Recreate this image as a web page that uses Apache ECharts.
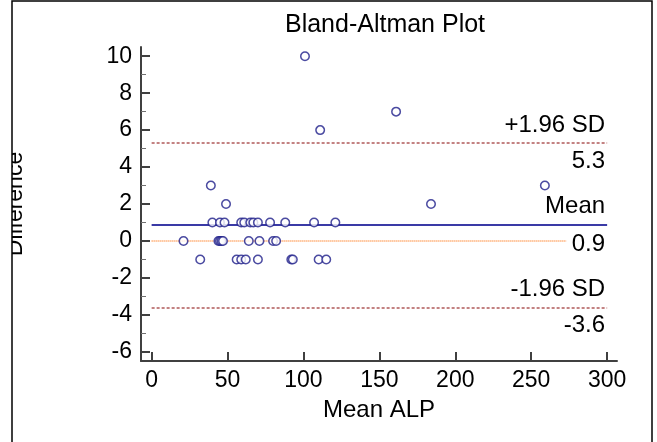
<!DOCTYPE html>
<html>
<head>
<meta charset="utf-8">
<script src="https://cdn.jsdelivr.net/npm/echarts@6/dist/echarts.min.js"></script>
<style>html,body{margin:0;padding:0;background:#fff}#c{width:657px;height:442px}</style>
</head>
<body>
<div id="c"></div>
<script>
// Data
const meanALP = [101, 111, 161, 259, 184, 39, 49,
  40, 45, 48, 59, 61, 65, 67, 70, 78, 88, 107, 121,
  21, 44, 45, 46, 47, 64, 71, 80, 82,
  32, 56, 59, 62, 70, 92, 93, 110, 115];
const difference = [10, 6, 7, 3, 2, 3, 2,
  1, 1, 1, 1, 1, 1, 1, 1, 1, 1, 1, 1,
  0, 0, 0, 0, 0, 0, 0, 0, 0,
  -1, -1, -1, -1, -1, -1, -1, -1, -1];
const meanDiff = 0.9;
const upperLoA = 5.3;
const lowerLoA = -3.6;
const xTicks = [0, 50, 100, 150, 200, 250, 300];
const yTicks = [-6, -4, -2, 0, 2, 4, 6, 8, 10];
const yMinorTicks = [-5, -3, -1, 1, 3, 5, 7, 9];

const FONT = 'Liberation Sans';
const points = meanALP.map((x, i) => [x, difference[i]]);
const chart = echarts.init(document.getElementById('c'), null, {renderer: 'canvas'});
const axisCol = '#404040';
const hidden = {color: 'rgba(0,0,0,0)', width: 1, type: 'solid'};
chart.setOption({
  animation: false,
  backgroundColor: '#fff',
  title: {
    text: 'Bland-Altman Plot', left: 380, top: 8, textAlign: 'center',
    textStyle: {fontFamily: FONT, fontSize: 25, fontWeight: 'normal', color: '#000'}
  },
  grid: {left: 141, right: 40, top: 47, bottom: 81, containLabel: false},
  xAxis: {
    type: 'value', min: -7, max: 306.5,
    name: 'Mean ALP', nameLocation: 'middle', nameGap: 37,
    nameTextStyle: {fontFamily: FONT, fontSize: 24, color: '#000'},
    axisLine: {onZero: false, lineStyle: {color: axisCol, width: 2}},
    axisTick: {inside: true, length: 9, customValues: xTicks, lineStyle: {color: axisCol, width: 2}},
    axisLabel: {customValues: xTicks, margin: 8, fontFamily: FONT, fontSize: 23, color: '#000'},
    splitLine: {show: false}
  },
  yAxis: [{
    type: 'value', min: -6.5, max: 10.5,
    axisLine: {onZero: false, lineStyle: {color: axisCol, width: 2}},
    axisTick: {inside: true, length: 9, customValues: yTicks, lineStyle: {color: axisCol, width: 2}},
    axisLabel: {customValues: yTicks, margin: 9, fontFamily: FONT, fontSize: 23, color: '#000'},
    splitLine: {show: false}
  }, {
    type: 'value', min: -6.5, max: 10.5, position: 'left',
    axisLine: {show: false, onZero: false},
    axisTick: {show: true, inside: true, length: 5, customValues: yMinorTicks, lineStyle: {color: '#707070', width: 1}},
    axisLabel: {show: false},
    splitLine: {show: false}
  }],
  series: [{
    type: 'scatter',
    data: points,
    symbol: 'circle',
    symbolSize: 8.5,
    itemStyle: {color: '#fff', borderColor: '#1e1e8a', borderWidth: 1.5},
    z: 5,
    markLine: {
      silent: true, symbol: 'none', animation: false,
      data: [
        [{coord: [0, upperLoA], lineStyle: {color: '#b05a5a', type: [3, 2], width: 1.5},
          label: {show: true, position: 'insideEndTop', formatter: '+1.96 SD', distance: [2, 6]}},
         {coord: [300, upperLoA]}],
        [{coord: [0, upperLoA], lineStyle: hidden,
          label: {show: true, position: 'insideEndBottom', formatter: String(upperLoA), distance: [2, 6]}},
         {coord: [300, upperLoA]}],
        [{coord: [0, meanDiff], lineStyle: {color: '#3a3aa6', type: 'solid', width: 2},
          label: {show: true, position: 'insideEndTop', formatter: 'Mean', distance: [2, 6]}},
         {coord: [300, meanDiff]}],
        [{coord: [0, meanDiff], lineStyle: hidden,
          label: {show: true, position: 'insideEndBottom', formatter: String(meanDiff), distance: [2, 8]}},
         {coord: [300, meanDiff]}],
        [{coord: [0, 0], lineStyle: {color: '#ff8c3c', type: [1, 1], width: 1.5}, label: {show: false}},
         {coord: [273, 0]}],
        [{coord: [0, lowerLoA], lineStyle: {color: '#b05a5a', type: [3, 2], width: 1.5},
          label: {show: true, position: 'insideEndTop', formatter: '-1.96 SD', distance: [2, 6]}},
         {coord: [300, lowerLoA]}],
        [{coord: [0, lowerLoA], lineStyle: hidden,
          label: {show: true, position: 'insideEndBottom', formatter: String(lowerLoA), distance: [2, 6]}},
         {coord: [300, lowerLoA]}]
      ],
      label: {fontFamily: FONT, fontSize: 24, color: '#000'}
    }
  }],
  graphic: [
    {type: 'text', x: 16, y: 204, rotation: Math.PI / 2, z: 10,
     style: {text: 'Difference', font: '23px "Liberation Sans"', fill: '#000', textAlign: 'center', textVerticalAlign: 'middle'}},
    {type: 'rect', shape: {x: 0, y: 0, width: 12, height: 442}, style: {fill: '#fff'}, z: 20},
    {type: 'rect', shape: {x: 12, y: 1, width: 640, height: 460}, style: {fill: 'none', stroke: '#000', lineWidth: 1.5}, z: 21}
  ]
});
</script>
</body>
</html>
